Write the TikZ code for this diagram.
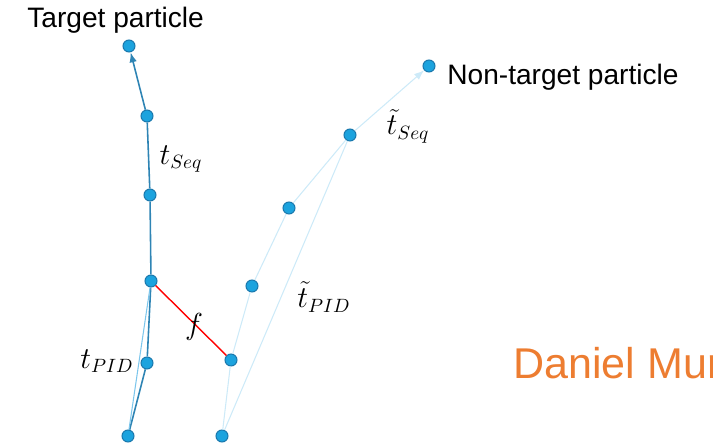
\documentclass[tikz,border=0pt]{standalone}
\usepackage{fontspec}
\setsansfont{Liberation Sans}
\usetikzlibrary{arrows.meta}

\definecolor{dotfill}{HTML}{1CA3DE}
\definecolor{dotrim}{HTML}{1A78AD}
\definecolor{trackdark}{HTML}{2E84B4}
\definecolor{tracklight}{HTML}{7CC6EC}
\definecolor{trackpale}{HTML}{CDEAF8}
\definecolor{nameorange}{HTML}{ED7D31}

\begin{document}
\begin{tikzpicture}[x=0.02cm, y=-0.02cm, >={Latex[length=2mm, width=1.5mm]},
	hit/.style={circle, fill=dotfill, draw=dotrim, line width=0.6pt, inner sep=0pt, minimum size=2.4mm},
	lab/.style={font=\fontsize{16}{19}\selectfont},
	title/.style={font=\sffamily\fontsize{16}{19}\selectfont, anchor=base west, inner sep=0pt}]
	\path[use as bounding box, clip] (0,0) rectangle (713,448);
	% hits of the two tracks, bottom to top
	\foreach \i/\p in {0/{128,436}, 1/{147,363}, 2/{151,281}, 3/{150,195}, 4/{147,116}, 5/{129,46}} {\node[hit] (t\i) at (\p) {};}
	\foreach \i/\p in {0/{222,436}, 1/{231,360}, 2/{252,286}, 3/{289,208}, 4/{350,135}, 5/{429,66}} {\node[hit] (n\i) at (\p) {};}
	% target track
	\draw[trackdark, line width=0.9pt] (t0) -- (t1) -- (t2) -- (t3) -- (t4);
	\draw[trackdark, line width=0.9pt, ->] (t4) -- (t5);
	\draw[tracklight, line width=0.6pt] (t0) -- (t2);
	% non-target track
	\draw[trackpale, line width=0.6pt] (n0) -- (n1) -- (n2) -- (n3) -- (n4);
	\draw[trackpale, line width=0.6pt, ->] (n4) -- (n5);
	\draw[trackpale, line width=0.6pt] (n0) -- (n4);
	% link between them
	\draw[red, line width=0.8pt] (t2) -- (n1);
	\node[lab] (tseq) at (181,159) {$t_{Seq}$};
	\node[lab] (tpid) at (107,361) {$t_{PID}$};
	\node[lab] (fval) at (194,327) {$f$};
	\node[lab] (nseq) at (408,126) {$\tilde{t}_{Seq}$};
	\node[lab] (npid) at (324,297) {$\tilde{t}_{PID}$};
	\node[title] (tname) at (27,28) {Target particle};
	\node[title] (nname) at (447,85) {Non-target particle};
	\node[title, nameorange, font=\sffamily\fontsize{24.5}{29}\selectfont] (author) at (513,379) {Daniel Mur};
\end{tikzpicture}
\end{document}
